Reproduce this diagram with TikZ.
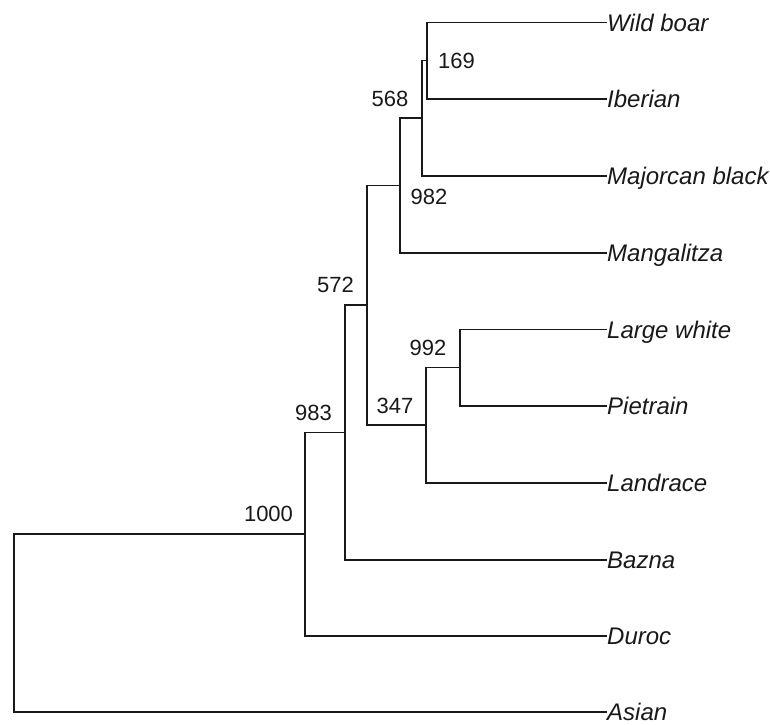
\documentclass[tikz,border=0pt]{standalone}
\usepackage{fontspec}
\setmainfont{Liberation Sans}
\begin{document}
\begin{tikzpicture}[x=1pt,y=-1pt,
  branch/.style={line width=1.9pt, draw=black!90},
  leaf/.style={anchor=west, inner sep=0pt, text height=17.2pt, text depth=0pt,
    font=\fontsize{24}{28}\selectfont\itshape, text=black!90},
  boot/.style={inner sep=0pt, text height=15.75pt, text depth=0pt,
    font=\fontsize{22}{26}\selectfont, text=black!90}]
\useasboundingbox (0,0) rectangle (770,724);
% leaves
\node[leaf] (wb) at (607,22.5) {Wild boar};
\node[leaf] (ib) at (607,99) {Iberian};
\node[leaf] (mb) at (607,176) {Majorcan black};
\node[leaf] (mg) at (607,253) {Mangalitza};
\node[leaf] (lw) at (607,329.5) {Large white};
\node[leaf] (pi) at (607,406) {Pietrain};
\node[leaf] (ld) at (607,483) {Landrace};
\node[leaf] (bz) at (607,560) {Bazna};
\node[leaf] (du) at (607,636) {Duroc};
\node[leaf] (as) at (607,712) {Asian};
% internal nodes
\coordinate (n169) at (427,60.5);
\coordinate (nmaj) at (422,118);
\coordinate (nmang) at (400,185.5);
\coordinate (n992) at (460,367.5);
\coordinate (n347) at (426,425);
\coordinate (n572) at (367,305);
\coordinate (n983) at (345,432.5);
\coordinate (n1000) at (305,534);
\coordinate (root) at (14,623);
% branches
\draw[branch] (n169) |- (wb.west);
\draw[branch] (n169) |- (ib.west);
\draw[branch] (nmaj) |- (n169);
\draw[branch] (nmaj) |- (mb.west);
\draw[branch] (nmang) |- (nmaj);
\draw[branch] (nmang) |- (mg.west);
\draw[branch] (n992) |- (lw.west);
\draw[branch] (n992) |- (pi.west);
\draw[branch] (n347) |- (n992);
\draw[branch] (n347) |- (ld.west);
\draw[branch] (n572) |- (nmang);
\draw[branch] (n572) |- (n347);
\draw[branch] (n983) |- (n572);
\draw[branch] (n983) |- (bz.west);
\draw[branch] (n1000) |- (n983);
\draw[branch] (n1000) |- (du.west);
\draw[branch] (root) |- (n1000);
\draw[branch] (root) |- (as.west);
% bootstrap values
\node[boot] (b169) at (456.5,61) {169};
\node[boot] (b568) at (390,99) {568};
\node[boot] (b982) at (429,197) {982};
\node[boot] (b572) at (335.5,285) {572};
\node[boot] (b992) at (428,348) {992};
\node[boot] (b347) at (395,406) {347};
\node[boot] (b983) at (313.5,413) {983};
\node[boot] (b1000) at (268.5,514) {1000};
\end{tikzpicture}
\end{document}
